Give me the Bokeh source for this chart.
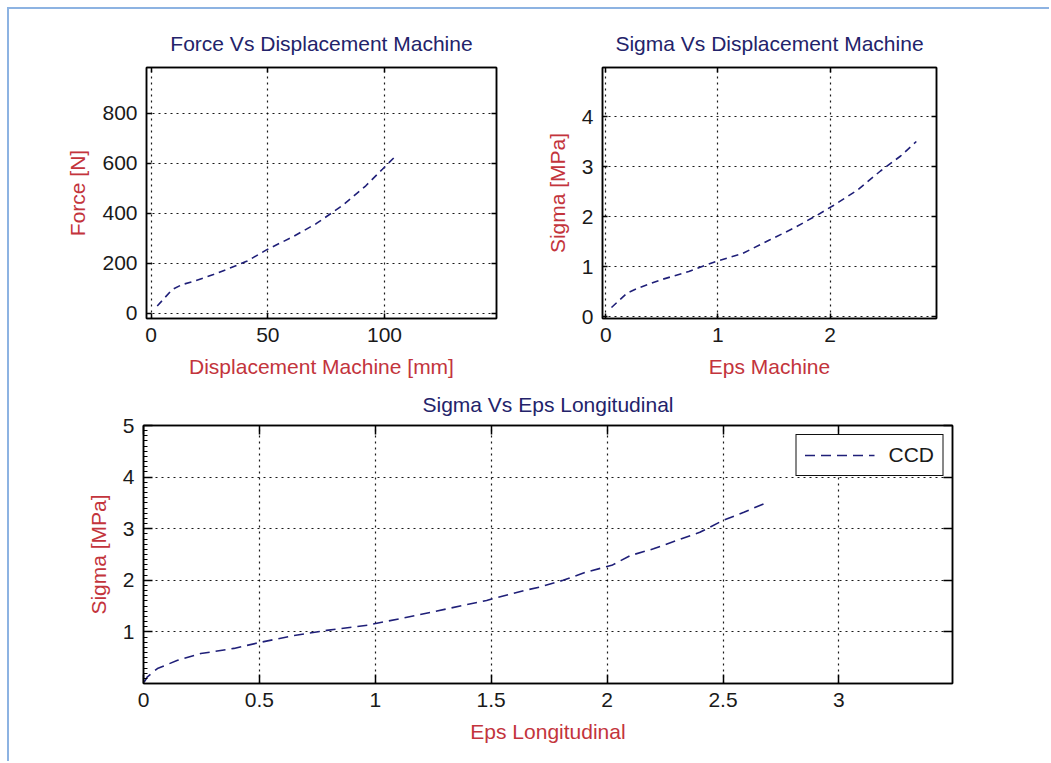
from bokeh.plotting import figure
from bokeh.layouts import column, row
from bokeh.models import FixedTicker, LinearAxis, Range1d
from bokeh.embed import file_html
from bokeh.resources import INLINE

# ---- data ----
disp_mm = [2.6, 9.0, 13.3, 18.2, 26.7, 33.8, 40.9, 49.4, 60.8, 70.7, 82.0, 92.0, 99.1, 104.0]
force_n = [28, 94, 114, 127, 154, 180, 207, 253, 306, 358, 431, 510, 576, 622]

eps_machine = [0.05, 0.19, 0.29, 0.50, 0.74, 0.98, 1.22, 1.46, 1.67, 1.88, 2.03, 2.24, 2.45, 2.63, 2.77]
sigma_machine = [0.18, 0.47, 0.57, 0.74, 0.90, 1.10, 1.26, 1.53, 1.76, 2.02, 2.22, 2.52, 2.91, 3.21, 3.50]

eps_long = [0.003, 0.017, 0.06, 0.147, 0.247, 0.39, 0.506, 0.65, 0.79, 0.966, 1.11, 1.25, 1.48,
            1.64, 1.71, 1.81, 1.91, 2.02, 2.10, 2.20, 2.30, 2.40, 2.50, 2.59, 2.68]
sigma_long = [0.03, 0.13, 0.29, 0.45, 0.58, 0.68, 0.80, 0.93, 1.03, 1.13, 1.26, 1.39, 1.61,
              1.80, 1.87, 2.00, 2.16, 2.29, 2.48, 2.61, 2.77, 2.93, 3.16, 3.32, 3.49]

fig1_xticks = [0, 50, 100]
fig1_yticks = [0, 200, 400, 600, 800]
fig2_xticks = [0, 1, 2]
fig2_yticks = [0, 1, 2, 3, 4]
fig3_xticks = [0, 0.5, 1, 1.5, 2, 2.5, 3]
fig3_yticks = [1, 2, 3, 4, 5]
fig3_yminor = [i / 10 for i in range(0, 51)]

FONT = "Liberation Sans"
TITLE_C = "#23236a"
LABEL_C = "#c3343c"
TICK_C = "#1a1a1a"
LINE_C = "#1f1f78"
FS = "21px"


def make_fig(title, w, h, bl, br, bt, bb, xr, yr, xlabel, ylabel, standoff):
    p = figure(width=w, height=h, output_backend="svg", toolbar_location=None,
               x_range=Range1d(*xr), y_range=Range1d(*yr),
               min_border_left=bl, min_border_right=br, min_border_top=bt, min_border_bottom=bb)
    p.title.text = title
    p.title.text_font = FONT
    p.title.text_font_size = FS
    p.title.text_font_style = "normal"
    p.title.text_color = TITLE_C
    p.title.align = "center"
    p.title.standoff = standoff
    p.outline_line_color = "black"
    p.outline_line_width = 1.5
    p.outline_line_alpha = 1
    p.xaxis.axis_label = xlabel
    p.yaxis.axis_label = ylabel
    return p


def style(p, xticks, yticks, tlen, yminor=None):
    xt = FixedTicker(ticks=xticks)
    yt = FixedTicker(ticks=yticks, minor_ticks=yminor or [])
    for ax, t in ((p.xaxis[0], xt), (p.yaxis[0], yt)):
        ax.ticker = t
        ax.major_tick_in = tlen
        ax.major_tick_out = 0
        ax.minor_tick_in = 4 if (yminor and ax is p.yaxis[0]) else 0
        ax.minor_tick_out = 0
        ax.axis_line_color = "black"
        ax.axis_line_width = 1.5
        ax.major_tick_line_width = 1.5
        ax.major_label_text_font = FONT
        ax.major_label_text_font_size = FS
        ax.major_label_text_color = TICK_C
        ax.major_label_standoff = 9
        ax.axis_label_text_font = FONT
        ax.axis_label_text_font_size = FS
        ax.axis_label_text_font_style = "normal"
        ax.axis_label_text_color = LABEL_C
        ax.axis_label_standoff = 10
    for loc, t in (("above", FixedTicker(ticks=xticks)), ("right", FixedTicker(ticks=yticks))):
        a = LinearAxis(ticker=t, major_tick_in=tlen, major_tick_out=0,
                       minor_tick_in=0, minor_tick_out=0,
                       major_label_text_font_size="0px", major_label_standoff=0,
                       axis_line_color="black", axis_line_width=1.5, major_tick_line_width=1.5)
        p.add_layout(a, loc)
    p.xgrid.ticker = FixedTicker(ticks=xticks)
    p.ygrid.ticker = FixedTicker(ticks=yticks)
    for g in (p.xgrid[0], p.ygrid[0]):
        g.grid_line_color = "black"
        g.grid_line_dash = "2 4"
        g.grid_line_width = 1.2
        g.grid_line_alpha = 0.9


p1 = make_fig("Force Vs Displacement Machine", 531, 371, 137, 44, 58, 59,
              (-2, 148), (-22, 984), "Displacement Machine [mm]", "Force [N]", 26)
style(p1, fig1_xticks, fig1_yticks, 5)
p1.line(disp_mm, force_n, line_color=LINE_C, line_width=1.6, line_dash="7 5")

p2 = make_fig("Sigma Vs Displacement Machine", 511, 371, 62, 115, 58, 59,
              (-0.03, 2.95), (-0.04, 4.98), "Eps Machine", "Sigma [MPa]", 26)
style(p2, fig2_xticks, fig2_yticks, 5)
p2.line(eps_machine, sigma_machine, line_color=LINE_C, line_width=1.6, line_dash="7 5")

p3 = make_fig("Sigma Vs Eps Longitudinal", 1042, 383, 134, 99, 45, 80,
              (0, 3.49), (0, 5), "Eps Longitudinal", "Sigma [MPa]", 20)
style(p3, fig3_xticks, fig3_yticks, 9, fig3_yminor)
p3.line(eps_long, sigma_long, line_color=LINE_C, line_width=1.6, line_dash="10 6", legend_label="CCD")
lg = p3.legend[0]
lg.location = "top_right"
lg.margin = 9
lg.border_line_color = "#111111"
lg.border_line_width = 1.5
lg.border_line_alpha = 1
lg.label_text_font = FONT
lg.label_text_font_size = FS
lg.label_text_color = TICK_C
lg.glyph_width = 70
lg.glyph_height = 20
lg.padding = 8
lg.label_standoff = 14
lg.background_fill_alpha = 1

layout = column(row(p1, p2), p3, margin=(9, 0, 0, 9),
                styles={"box-shadow": "-2px -2px 0 0 #8db3e2"})

open("out.html", "w").write(file_html(layout, INLINE))
